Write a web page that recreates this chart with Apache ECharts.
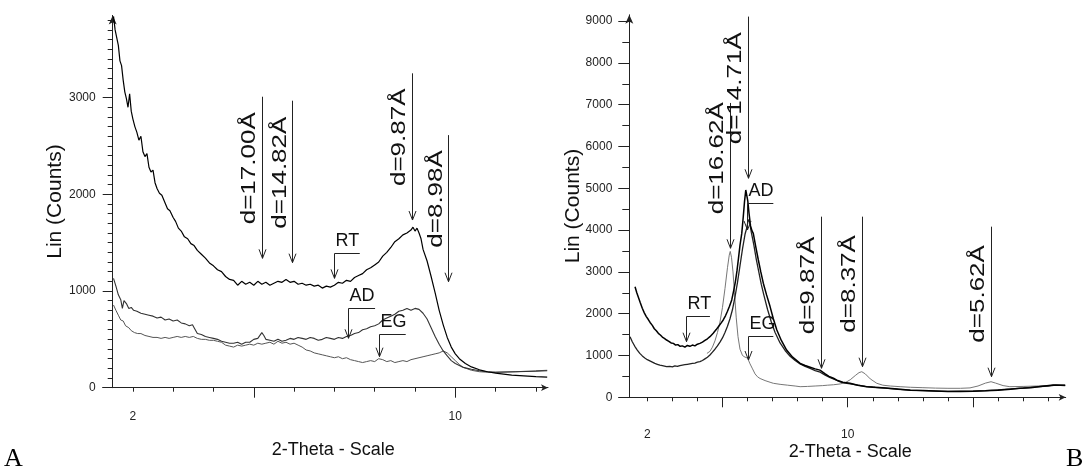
<!DOCTYPE html>
<html>
<head>
<meta charset="utf-8">
<script src="https://cdn.jsdelivr.net/npm/echarts@6/dist/echarts.min.js"></script>
<style>
html,body{margin:0;padding:0;background:#fff;}
#chart{width:1085px;height:473px;}
</style>
</head>
<body>
<div id="chart"></div>
<script>
// ---------- Panel A data (2-theta, counts) ----------
const A_RT = [[1.52,3840],[1.56,3700],[1.60,3620],[1.64,3540],[1.68,3380],[1.72,3330],[1.76,3180],[1.80,3060],[1.84,2990],[1.88,2900],[1.92,3040],[1.96,2860],[2.00,2780],[2.05,2700],[2.10,2640],[2.15,2560],[2.20,2600],[2.25,2440],[2.30,2390],[2.35,2420],[2.40,2280],[2.45,2230],[2.50,2250],[2.55,2120],[2.60,2060],[2.66,2010],[2.72,1990],[2.80,1910],[2.86,1850],[2.92,1830],[3.00,1760],[3.06,1720],[3.13,1650],[3.20,1620],[3.28,1560],[3.36,1540],[3.44,1490],[3.52,1470],[3.60,1420],[3.70,1380],[3.80,1340],[3.90,1290],[4.00,1260],[4.10,1220],[4.20,1200],[4.30,1150],[4.40,1120],[4.50,1110],[4.60,1060],[4.70,1100],[4.80,1070],[4.90,1090],[5.00,1060],[5.10,1100],[5.20,1070],[5.30,1090],[5.40,1060],[5.50,1080],[5.60,1100],[5.70,1090],[5.80,1120],[5.90,1090],[6.00,1100],[6.10,1070],[6.20,1080],[6.30,1060],[6.40,1070],[6.50,1050],[6.60,1060],[6.70,1030],[6.80,1050],[6.90,1040],[7.00,1060],[7.10,1090],[7.20,1080],[7.30,1110],[7.40,1100],[7.50,1140],[7.60,1160],[7.70,1180],[7.80,1220],[7.90,1240],[8.00,1270],[8.10,1300],[8.20,1360],[8.30,1400],[8.40,1450],[8.50,1510],[8.60,1540],[8.70,1580],[8.80,1600],[8.90,1630],[8.95,1660],[9.00,1620],[9.05,1650],[9.10,1600],[9.15,1540],[9.20,1430],[9.30,1310],[9.40,1150],[9.50,980],[9.60,800],[9.70,650],[9.80,520],[9.90,420],[10.00,350],[10.10,300],[10.25,250],[10.40,215],[10.60,185],[10.80,165],[11.00,150],[11.20,140],[11.40,130],[11.60,125],[11.80,120],[12.00,115],[12.28,110]];
const A_AD = [[1.52,1130],[1.58,1050],[1.64,960],[1.70,910],[1.74,820],[1.78,900],[1.84,870],[1.90,820],[1.96,830],[2.02,800],[2.10,790],[2.20,770],[2.30,760],[2.40,750],[2.50,740],[2.60,720],[2.70,730],[2.80,700],[2.90,710],[3.00,690],[3.10,700],[3.20,670],[3.30,660],[3.40,640],[3.48,650],[3.52,620],[3.60,560],[3.70,550],[3.80,530],[3.90,520],[4.00,510],[4.10,500],[4.20,480],[4.30,470],[4.40,460],[4.50,460],[4.60,470],[4.70,450],[4.80,470],[4.90,470],[5.00,500],[5.10,510],[5.20,570],[5.25,540],[5.30,500],[5.40,490],[5.50,480],[5.60,500],[5.70,480],[5.80,490],[5.90,510],[6.00,500],[6.10,520],[6.20,510],[6.30,500],[6.40,520],[6.50,510],[6.60,490],[6.70,500],[6.80,520],[6.90,510],[7.00,500],[7.10,520],[7.20,510],[7.30,530],[7.40,540],[7.50,560],[7.60,570],[7.70,600],[7.80,610],[7.90,630],[8.00,640],[8.10,660],[8.20,700],[8.30,720],[8.40,740],[8.50,760],[8.60,790],[8.70,800],[8.80,820],[8.90,800],[9.00,820],[9.10,810],[9.20,770],[9.30,710],[9.40,620],[9.50,530],[9.60,450],[9.70,380],[9.80,330],[9.90,280],[10.00,250],[10.20,210],[10.40,190],[10.60,175],[10.80,165],[11.00,160],[11.50,165],[12.00,170],[12.28,175]];
const A_EG = [[1.52,855],[1.58,800],[1.64,750],[1.70,700],[1.76,690],[1.82,640],[1.90,620],[1.96,590],[2.04,570],[2.12,560],[2.20,560],[2.30,540],[2.40,530],[2.50,520],[2.60,520],[2.70,510],[2.80,520],[2.90,510],[3.00,520],[3.10,530],[3.20,520],[3.30,530],[3.40,520],[3.50,530],[3.60,510],[3.70,500],[3.80,500],[3.90,490],[4.00,490],[4.10,480],[4.20,470],[4.30,440],[4.40,430],[4.50,420],[4.60,440],[4.70,430],[4.80,440],[4.90,450],[5.00,440],[5.10,460],[5.20,450],[5.30,460],[5.40,470],[5.50,450],[5.60,480],[5.70,460],[5.80,470],[5.90,450],[6.00,460],[6.10,440],[6.20,420],[6.30,390],[6.40,380],[6.50,360],[6.60,350],[6.70,340],[6.80,330],[6.90,320],[7.00,310],[7.10,320],[7.20,300],[7.30,310],[7.40,290],[7.50,280],[7.60,270],[7.70,260],[7.80,270],[7.90,280],[8.00,270],[8.10,300],[8.20,290],[8.30,270],[8.40,280],[8.50,260],[8.60,270],[8.70,280],[8.80,270],[8.90,290],[9.00,300],[9.10,310],[9.20,320],[9.30,330],[9.40,340],[9.50,350],[9.60,360],[9.70,380],[9.80,360],[9.90,320],[10.00,280],[10.10,240],[10.20,210],[10.40,180],[10.60,165],[10.80,160],[11.00,160],[11.50,165],[12.00,175],[12.28,180]];

// ---------- Panel B data ----------
const B_RT = [[1.51,2646],[1.58,2500],[1.65,2380],[1.72,2260],[1.80,2130],[1.88,2020],[1.96,1930],[2.04,1860],[2.11,1790],[2.20,1720],[2.28,1640],[2.36,1590],[2.44,1530],[2.52,1490],[2.60,1440],[2.68,1410],[2.77,1370],[2.86,1340],[2.95,1300],[3.04,1290],[3.13,1250],[3.22,1260],[3.31,1220],[3.40,1230],[3.50,1200],[3.60,1240],[3.70,1220],[3.80,1250],[3.90,1230],[4.00,1270],[4.10,1290],[4.20,1320],[4.30,1360],[4.40,1400],[4.50,1450],[4.63,1530],[4.75,1620],[4.85,1700],[4.95,1780],[5.03,1850],[5.12,1950],[5.20,2060],[5.28,2180],[5.37,2330],[5.45,2560],[5.52,2780],[5.58,3030],[5.64,3330],[5.70,3640],[5.77,3920],[5.83,4320],[5.88,4680],[5.93,4960],[5.97,4920],[6.01,4700],[6.06,4400],[6.12,4100],[6.18,3980],[6.23,3920],[6.33,3600],[6.43,3290],[6.53,3000],[6.63,2730],[6.76,2450],[6.90,2170],[7.03,1880],[7.17,1610],[7.35,1360],[7.56,1130],[7.80,960],[8.10,810],[8.30,760],[8.50,720],[8.70,680],[8.89,650],[9.10,560],[9.25,500],[9.43,455],[9.60,400],[9.80,360],[10.09,335],[10.40,290],[10.76,254],[11.10,240],[11.50,225],[12.00,200],[12.50,170],[13.00,160],[13.50,150],[14.00,140],[14.50,140],[15.00,145],[15.50,155],[16.00,170],[16.50,190],[16.88,215],[17.30,230],[17.70,260],[18.20,294],[18.68,290]];
const B_AD = [[1.31,1450],[1.40,1330],[1.50,1220],[1.60,1130],[1.70,1050],[1.80,990],[1.90,940],[2.00,900],[2.10,870],[2.20,840],[2.30,810],[2.40,790],[2.50,770],[2.60,760],[2.77,732],[2.90,740],[3.00,730],[3.10,750],[3.20,740],[3.30,760],[3.40,770],[3.50,780],[3.60,790],[3.70,800],[3.80,810],[3.90,820],[4.00,840],[4.10,852],[4.20,880],[4.30,920],[4.40,960],[4.50,1012],[4.60,1080],[4.70,1150],[4.80,1230],[4.90,1320],[5.00,1420],[5.10,1550],[5.20,1700],[5.30,1880],[5.40,2100],[5.50,2400],[5.60,2750],[5.70,3150],[5.80,3550],[5.90,3900],[5.97,4050],[6.03,4250],[6.08,4200],[6.15,3950],[6.25,3650],[6.35,3300],[6.45,3000],[6.55,2700],[6.65,2450],[6.80,2100],[6.95,1800],[7.10,1550],[7.30,1300],[7.50,1120],[7.70,980],[7.90,880],[8.10,800],[8.30,740],[8.50,690],[8.70,640],[8.90,600],[9.10,530],[9.30,470],[9.50,420],[9.70,370],[9.90,340],[10.10,320],[10.40,290],[10.70,260],[11.00,240],[11.50,220],[12.00,190],[12.50,170],[13.00,160],[13.50,150],[14.00,140],[14.50,145],[15.00,150],[15.50,160],[16.00,180],[16.50,200],[17.00,220],[17.50,250],[18.00,270],[18.30,290],[18.68,280]];
const B_EG = [[4.38,1050],[4.50,1100],[4.60,1200],[4.70,1350],[4.80,1550],[4.90,1800],[5.00,2150],[5.10,2600],[5.20,3100],[5.27,3400],[5.31,3490],[5.36,3350],[5.42,3000],[5.48,2500],[5.55,1900],[5.62,1450],[5.70,1150],[5.80,1000],[5.90,960],[6.00,940],[6.03,930],[6.10,800],[6.20,680],[6.30,560],[6.40,490],[6.50,450],[6.70,400],[6.90,360],[7.03,335],[7.30,310],[7.60,290],[7.90,270],[8.10,254],[8.40,260],[8.70,270],[9.00,280],[9.20,290],[9.43,300],[9.70,320],[9.90,350],[10.10,420],[10.30,520],[10.45,590],[10.56,612],[10.70,560],[10.90,440],[11.16,335],[11.40,290],[11.70,270],[12.09,254],[12.50,240],[13.00,230],[13.50,220],[14.00,215],[14.50,215],[14.88,225],[15.20,270],[15.50,340],[15.72,373],[15.90,340],[16.20,280],[16.47,254],[17.00,260],[17.55,270],[18.00,280],[18.68,294]];

// ---------- Annotations: [label, 2-theta, arrow tip (counts), line top (counts)] ----------
const A_DLINES = [['d=17.00Å',5.20,1338,3009],['d=14.82Å',5.96,1293,2968],['d=9.87Å',8.93,1734,3251],['d=8.98Å',9.83,1096,2612]];
const B_DLINES = [['d=16.62Å',5.30,3565,7041],['d=14.71Å',6.01,5239,9107],['d=9.87Å',8.93,694,4321],['d=8.37Å',10.56,732,4321],['d=5.62Å',15.72,493,4082]];
// sample tags: [label, 2-theta, arrow tip, bar level, bar end 2-theta]
const A_TAGS = [['RT',6.99,1131,1396,7.63],['AD',7.34,511,827,8.01],['EG',8.10,321,552,8.77]];
const B_TAGS = [['RT',3.545,1330,1952,4.50],['AD',5.97,4003,4641,7.03],['EG',6.03,892,1474,7.03]];

// ---------- Axis ticks / labels ----------
const A_X_TICKS = [2,3,4,5,6,7,8,9,10,11,12];
const A_X_MAJOR = [5,10];
const A_X_LABELS = [2,10];
const A_Y_LABELS = [0,1000,2000,3000];
const B_X_TICKS = [2,3,4,5,6,7,8,9,10,11,12,13,14,15,16,17,18];
const B_X_MAJOR = [5,10,15];
const B_X_LABELS = [2,10];
const B_Y_LABELS = [0,1000,2000,3000,4000,5000,6000,7000,8000,9000];
const A_Y_MINOR = []; for (let v = 0; v <= 3800; v += 100) A_Y_MINOR.push(v);
const B_Y_MINOR = []; for (let v = 0; v <= 9000; v += 500) B_Y_MINOR.push(v);

const AXIS_COLOR = '#222';
const TICK_FONT = "'Liberation Sans Narrow', 'Liberation Sans', Arial, sans-serif";
const TEXT_FONT = "'Liberation Sans', Arial, sans-serif";

const px = v => Math.round(v) + 0.5;
const plain = v => String(Math.round(v));

function dLineRender(list) {
  return function (params, api) {
    const it = list[params.dataIndex];
    const tip = api.coord([it[1], it[2]]);
    const top = api.coord([it[1], it[3]]);
    const x = px(tip[0]);
    return {
      type: 'group',
      children: [
        { type: 'line', shape: { x1: x, y1: top[1], x2: x, y2: tip[1] }, style: { stroke: '#222', lineWidth: 1 } },
        { type: 'polyline', shape: { points: [[x - 3.5, tip[1] - 9], [x, tip[1]], [x + 3.5, tip[1] - 9]] }, style: { stroke: '#222', fill: null, lineWidth: 1 } },
        { type: 'text', x: tip[0] - 2, y: tip[1] - 34, rotation: Math.PI / 2, scaleX: 1.3, scaleY: 1.05,
          style: { text: it[0], fontSize: 20, fontFamily: TEXT_FONT, fill: '#111', align: 'left', verticalAlign: 'bottom' } }
      ]
    };
  };
}
function tagRender(list) {
  return function (params, api) {
    const it = list[params.dataIndex];
    const tip = api.coord([it[1], it[2]]);
    const bar = api.coord([it[1], it[3]]);
    const end = api.coord([it[4], it[3]]);
    const x = px(tip[0]);
    const by = px(bar[1]);
    return {
      type: 'group',
      children: [
        { type: 'line', shape: { x1: x, y1: by, x2: x, y2: tip[1] }, style: { stroke: '#222', lineWidth: 1 } },
        { type: 'line', shape: { x1: x, y1: by, x2: end[0], y2: by }, style: { stroke: '#222', lineWidth: 1 } },
        { type: 'polyline', shape: { points: [[x - 3.5, tip[1] - 9], [x, tip[1]], [x + 3.5, tip[1] - 9]] }, style: { stroke: '#222', fill: null, lineWidth: 1 } },
        { type: 'text', x: x + 1, y: by - 3, style: { text: it[0], fontSize: 18, fontFamily: TEXT_FONT, fill: '#111', align: 'left', verticalAlign: 'bottom' } }
      ]
    };
  };
}

function mainX(grid, min, max, ticks, labels, gap) {
  return {
    gridIndex: grid, type: 'value', position: 'bottom', min: min, max: max,
    axisLine: { show: true, lineStyle: { color: AXIS_COLOR, width: 1 }, symbol: ['none', 'arrow'], symbolSize: [5, 7] },
    axisTick: { show: true, customValues: ticks, length: 4, lineStyle: { color: AXIS_COLOR } },
    axisLabel: { show: true, customValues: labels, formatter: plain, margin: gap.label, fontSize: 12, fontFamily: TICK_FONT, color: '#222' },
    splitLine: { show: false },
    name: '2-Theta - Scale', nameLocation: 'middle', nameGap: gap.name, nameMoveOverlap: false,
    nameTextStyle: { fontSize: 18, fontFamily: TEXT_FONT, color: '#111', padding: [0, 0, 0, 16] }
  };
}
function overX(grid, min, max, ticks) {
  return {
    gridIndex: grid, type: 'value', position: 'bottom', min: min, max: max,
    axisLine: { show: false }, axisLabel: { show: false }, splitLine: { show: false },
    axisTick: { show: true, customValues: ticks, length: 10, lineStyle: { color: AXIS_COLOR } }
  };
}
function mainY(grid, max, ticks, labels, tickLen, offset, nameGap) {
  return {
    gridIndex: grid, type: 'value', position: 'left', min: 0, max: max, offset: offset,
    axisLine: { show: true, lineStyle: { color: AXIS_COLOR, width: 1 }, symbol: ['none', 'arrow'], symbolSize: [6, 9] },
    axisTick: { show: true, customValues: ticks, length: tickLen, lineStyle: { color: AXIS_COLOR } },
    axisLabel: { show: true, customValues: labels, formatter: plain, margin: 17, fontSize: 12, fontFamily: TICK_FONT, color: '#222' },
    splitLine: { show: false },
    name: 'Lin (Counts)', nameLocation: 'middle', nameGap: nameGap, nameRotate: 90, nameMoveOverlap: false,
    nameTextStyle: { fontSize: 21, fontFamily: TEXT_FONT, color: '#111' }
  };
}
function overY(grid, max, ticks, tickLen, offset) {
  return {
    gridIndex: grid, type: 'value', position: 'left', min: 0, max: max, offset: offset,
    axisLine: { show: false }, axisLabel: { show: false }, splitLine: { show: false },
    axisTick: { show: true, customValues: ticks, length: tickLen, lineStyle: { color: AXIS_COLOR } }
  };
}
function lineSeries(data, xi, yi, color, width) {
  return { type: 'line', data: data, xAxisIndex: xi, yAxisIndex: yi, showSymbol: false, symbol: 'none',
    lineStyle: { color: color, width: width }, silent: true, z: 2 };
}

const chart = echarts.init(document.getElementById('chart'), null, { renderer: 'canvas' });
chart.setOption({
  animation: false,
  backgroundColor: '#fff',
  grid: [
    { left: 102.7, top: 15.4, width: 445.3, height: 372.3, containLabel: false, outerBoundsMode: 'none' },
    { left: 619, top: 14.8, width: 446.7, height: 382.5, containLabel: false, outerBoundsMode: 'none' }
  ],
  xAxis: [
    mainX(0, 1.252, 12.3, A_X_TICKS, A_X_LABELS, { label: 23, name: 53 }),
    overX(0, 1.252, 12.3, A_X_MAJOR),
    mainX(1, 0.870, 18.70, B_X_TICKS, B_X_LABELS, { label: 31, name: 46 }),
    overX(1, 0.870, 18.70, B_X_MAJOR)
  ],
  yAxis: [
    mainY(0, 3850, A_Y_MINOR, A_Y_LABELS, 5, -10, 47),
    overY(0, 3850, A_Y_LABELS, 10, -10),
    mainY(1, 9150, B_Y_MINOR, B_Y_LABELS, 7, -10.3, 46),
    overY(1, 9150, B_Y_LABELS, 11, -10.3)
  ],
  series: [
    lineSeries(A_EG, 0, 0, '#555', 1),
    lineSeries(A_AD, 0, 0, '#333', 1.1),
    lineSeries(A_RT, 0, 0, '#000', 1.2),
    lineSeries(B_EG, 2, 2, '#777', 1),
    lineSeries(B_AD, 2, 2, '#222', 1.3),
    lineSeries(B_RT, 2, 2, '#000', 1.5),
    { type: 'custom', xAxisIndex: 0, yAxisIndex: 0, data: A_DLINES.map(d => [d[1], d[2], d[3]]), renderItem: dLineRender(A_DLINES), silent: true, clip: false, z: 5 },
    { type: 'custom', xAxisIndex: 0, yAxisIndex: 0, data: A_TAGS.map(d => [d[1], d[2], d[3], d[4]]), renderItem: tagRender(A_TAGS), silent: true, clip: false, z: 5 },
    { type: 'custom', xAxisIndex: 2, yAxisIndex: 2, data: B_DLINES.map(d => [d[1], d[2], d[3]]), renderItem: dLineRender(B_DLINES), silent: true, clip: false, z: 5 },
    { type: 'custom', xAxisIndex: 2, yAxisIndex: 2, data: B_TAGS.map(d => [d[1], d[2], d[3], d[4]]), renderItem: tagRender(B_TAGS), silent: true, clip: false, z: 5 }
  ],
  graphic: [
    { type: 'text', left: 4, top: 446, style: { text: 'A', fontSize: 26, fontFamily: "'Liberation Serif', 'Times New Roman', serif", fill: '#000' } },
    { type: 'text', left: 1066, top: 446, style: { text: 'B', fontSize: 26, fontFamily: "'Liberation Serif', 'Times New Roman', serif", fill: '#000' } }
  ]
});
</script>
</body>
</html>
